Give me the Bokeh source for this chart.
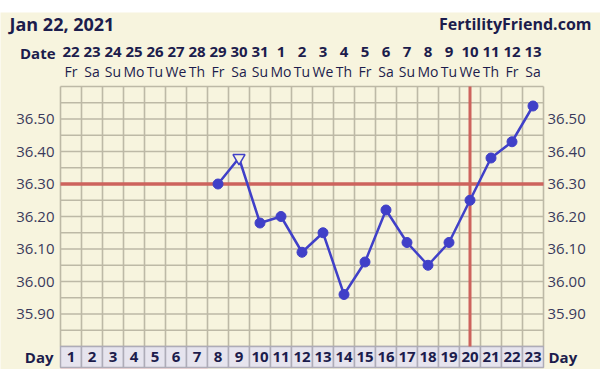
from bokeh.plotting import figure
from bokeh.models import Spacer
from bokeh.layouts import column
from bokeh.core.properties import value
from bokeh.embed import file_html
from bokeh.resources import INLINE
import numpy as np

# ---------------- data ----------------
title_text = "Jan 22, 2021"
site_text = "FertilityFriend.com"
cycle_days = list(range(1, 24))
day_labels = [str(d) for d in cycle_days]
date_labels = ["22", "23", "24", "25", "26", "27", "28", "29", "30", "31",
               "1", "2", "3", "4", "5", "6", "7", "8", "9", "10", "11", "12", "13"]
weekday_labels = ["Fr", "Sa", "Su", "Mo", "Tu", "We", "Th", "Fr", "Sa", "Su", "Mo",
                  "Tu", "We", "Th", "Fr", "Sa", "Su", "Mo", "Tu", "We", "Th", "Fr", "Sa"]
temp_days = list(range(8, 24))
temps = [36.30, 36.38, 36.18, 36.20, 36.09, 36.15, 35.96, 36.06,
         36.22, 36.12, 36.05, 36.12, 36.25, 36.38, 36.43, 36.54]
open_marker_day = 9
coverline = 36.30
ovulation_day = 20
period_days = [1, 2, 3, 4, 5, 6, 7]
y_ticks = [35.90, 36.00, 36.10, 36.20, 36.30, 36.40, 36.50]
y_tick_labels = ["35.90", "36.00", "36.10", "36.20", "36.30", "36.40", "36.50"]
y_min, y_max = 35.80, 36.60

# ---------------- layout / style ----------------
W, H, TOP_GAP = 600, 357, 12
PX_DAY = 21.0          # px per cycle day
PX_DEG = 325.0         # px per degree
GRID_LEFT_PX = 60      # page x of the left grid edge (day 0.5)
GRID_TOP_PX = 86       # page y of y_max line
BG = "#f7f4de"
GRID = "#bdb9a6"
NAVY = "#1c1c4c"
LABEL = "#3a3a5c"
BLUE = "#4040c8"
RED = "#cd635d"
FONT = "Open Sans"


def dx(page_x):
    return 0.5 + (page_x - GRID_LEFT_PX) / PX_DAY


def dy(page_y):
    return y_max - (page_y - GRID_TOP_PX) / PX_DEG


x_start, x_end = dx(0), dx(W)
y_end, y_start = dy(TOP_GAP), dy(TOP_GAP + H)

p = figure(width=W, height=H, x_range=(x_start, x_end), y_range=(y_start, y_end),
           output_backend="svg", toolbar_location=None,
           x_axis_location=None, y_axis_location=None,
           min_border=0, min_border_left=0, min_border_right=0,
           min_border_top=0, min_border_bottom=0,
           background_fill_color=BG, border_fill_color=BG,
           outline_line_color=None)
p.grid.visible = False

n = len(cycle_days)
cd = np.array(cycle_days)

# grid
vx = np.arange(n + 1) + 0.5
p.segment(x0=vx, y0=y_min, x1=vx, y1=y_max, line_color=GRID, line_width=1.6)
hy = np.round(np.arange(y_min, y_max + 0.001, 0.05), 2)
p.segment(x0=0.5, y0=hy, x1=n + 0.5, y1=hy, line_color=GRID, line_width=1.6)

# day row cells and period strip
cell_h = 21 / PX_DEG
p.quad(left=cd - 0.5, right=cd + 0.5, top=y_min, bottom=y_min - cell_h,
       fill_color="#e6e4ee", line_color="#aeacb8", line_width=1.5)
pd_ = np.array(period_days)
p.quad(left=pd_ - 0.5, right=pd_ + 0.5, top=y_min - cell_h - 1 / PX_DEG,
       bottom=y_start - 0.01, fill_color="#e3b9c9", line_color=None)
p.text(x=cycle_days, y=[dy(356)] * n, text=day_labels,
       text_font=value(FONT), text_font_style="bold", text_font_size="15px",
       text_color=NAVY, text_align="center", text_baseline="middle")

# header rows
p.text(x=cycle_days, y=[dy(51)] * n, text=date_labels,
       text_font=value(FONT), text_font_style="bold", text_font_size="15px",
       text_color=NAVY, text_align="center", text_baseline="middle")
p.text(x=cycle_days, y=[dy(70.5)] * n, text=weekday_labels,
       text_font=value(FONT), text_font_size="14px",
       text_color=NAVY, text_align="center", text_baseline="middle")

# y tick labels on both sides
p.text(x=[dx(54)] * len(y_ticks), y=y_ticks, text=y_tick_labels,
       text_font=value(FONT), text_font_size="15px", text_color=LABEL,
       text_align="right", text_baseline="middle")
p.text(x=[dx(547)] * len(y_ticks), y=y_ticks, text=y_tick_labels,
       text_font=value(FONT), text_font_size="15px", text_color=LABEL,
       text_align="left", text_baseline="middle")

# coverline and ovulation line
p.segment(x0=0.5, y0=coverline, x1=n + 0.5, y1=coverline,
          line_color=RED, line_width=3.5)
p.segment(x0=ovulation_day, y0=y_min, x1=ovulation_day, y1=y_max,
          line_color=RED, line_width=3)

# temperatures
p.line(temp_days, temps, line_color=BLUE, line_width=2.5)
fx = [d for d in temp_days if d != open_marker_day]
fy = [t for d, t in zip(temp_days, temps) if d != open_marker_day]
p.scatter(fx, fy, marker="circle", size=10, fill_color=BLUE, line_color=BLUE)
ox = [d for d in temp_days if d == open_marker_day]
oy = [t for d, t in zip(temp_days, temps) if d == open_marker_day]
p.scatter(ox, oy, marker="inverted_triangle", size=12, fill_color=BG,
          line_color=BLUE, line_width=1.5)


# labels around the grid
def lab(x, y, text, size, align):
    p.text(x=[x], y=[y], text=[text], text_font=value(FONT), text_font_style="bold",
           text_font_size=size, text_color=NAVY, text_align=align,
           text_baseline="middle")


lab(dx(9), dy(23), title_text, "18px", "left")
lab(dx(591), dy(23), site_text, "16px", "right")
lab(dx(55), dy(52), "Date", "15px", "right")
lab(dx(53), dy(356), "Day", "15px", "right")
lab(dx(548), dy(356), "Day", "15px", "left")

layout = column(Spacer(width=W, height=TOP_GAP), p)
open("out.html", "w").write(file_html(layout, INLINE))
